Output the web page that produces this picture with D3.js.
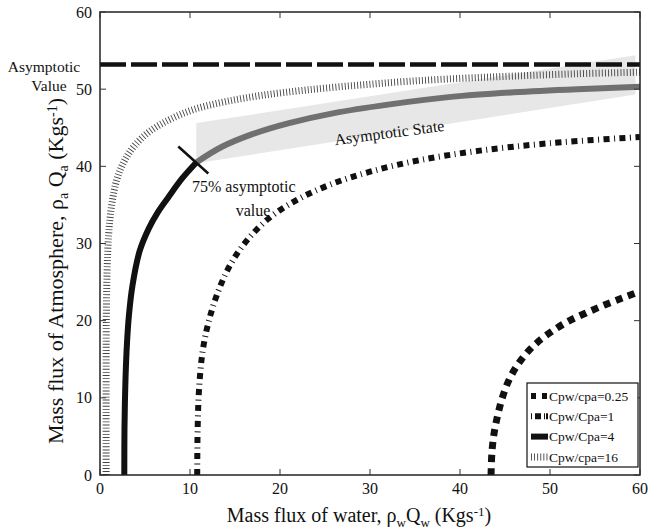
<!DOCTYPE html>
<html>
<head>
<meta charset="utf-8">
<script src="https://cdn.jsdelivr.net/npm/d3@7"></script>
<style>
  body { margin: 0; background: #fff; }
  text { font-family: "Liberation Serif", "DejaVu Serif", serif; fill: #111; }
</style>
</head>
<body>
<svg id="chart" width="649" height="530"></svg>
<script>
// Axis ticks
const xTicks = [0, 10, 20, 30, 40, 50, 60];
const yTicks = [0, 10, 20, 30, 40, 50, 60];

// Horizontal asymptote of the atmosphere mass flux (kg/s)
const asymptoticValue = 53.2;

// Mass flux of water (x) vs mass flux of atmosphere (y), one array per heat-capacity ratio
const ratio025 = [[43.45,0],[43.55,3],[43.8,5.5],[44.2,7.8],[44.7,10.0],[45.4,12.2],[46.3,14.1],[47.4,15.8],
  [48.6,17.2],[50.2,18.6],[52.0,19.9],[54.0,21.0],[56.2,22.1],[58.2,23.0],[60,23.8]];
const ratio1 = [[10.8,0],[10.85,6],[11.0,11],[11.4,16],[12.1,20],[13.2,24],[14.6,27.5],[16.4,30.5],
  [18.8,33.3],[21.8,35.6],[25.5,37.6],[30,39.3],[35.5,40.8],[42,42.0],[50,43.0],[60,43.8]];
const ratio4 = [[2.7,0],[2.72,6],[2.8,11],[2.95,16],[3.2,20.5],[3.6,24.5],[4.4,29.0],[5.4,31.9],
  [6.4,34.0],[7.6,36.0],[9.1,38.4],[10.7,40.5],[13.5,42.5],[17,44.2],[21,45.6],[26,46.9],[32,48.0],
  [39,49.0],[46,49.6],[53,50.0],[60,50.3]];
const ratio16 = [[0.68,0],[0.68,10],[0.7,20],[0.78,26],[0.95,31],[1.3,35],[1.9,38.4],[2.8,40.9],
  [4.0,42.9],[5.6,44.6],[7.8,46.1],[10.5,47.4],[14,48.4],[18,49.2],[23,49.9],[28.5,50.5],[34,51.0],
  [40,51.4],[46,51.7],[53,52.0],[60,52.2]];

// Point where the Cpw/Cpa=4 curve reaches 75% of the asymptotic value
const point75 = [10.7, 40.5];

// Shaded band marking the asymptotic state
const stateBand = [[10.7,45.6],[59.5,54.4],[59.5,49.3],[10.7,40.4]];

const legendLabels = ["Cpw/cpa=0.25", "Cpw/Cpa=1", "Cpw/Cpa=4", "Cpw/cpa=16"];

const svg = d3.select("#chart");
const x = d3.scaleLinear().domain([0, 60]).range([100, 640]);
const y = d3.scaleLinear().domain([0, 60]).range([475, 12]);

svg.append("defs").append("clipPath").attr("id", "plot")
  .append("rect").attr("x", 100).attr("y", 12).attr("width", 540).attr("height", 463);

const curveLine = d3.line().x(d => x(d[0])).y(d => y(d[1])).curve(d3.curveCatmullRom.alpha(0.5));

const g = svg.append("g").attr("clip-path", "url(#plot)");

// Asymptotic state band
g.append("path")
  .attr("d", d3.line().x(d => x(d[0])).y(d => y(d[1]))(stateBand) + "Z")
  .attr("fill", "#e7e7e8");

const styles = [
  { data: ratio025, width: 7, dash: "7,6", color: "#111" },
  { data: ratio1, width: 6, dash: "6,4.5,1,4.5", color: "#111" },
  { data: ratio16, width: 7, dash: "0.9,2.2", color: "#444" }
];
styles.forEach(s => {
  g.append("path").attr("d", curveLine(s.data))
    .attr("fill", "none").attr("stroke", s.color)
    .attr("stroke-width", s.width).attr("stroke-dasharray", s.dash);
});

// Cpw/Cpa=4: black up to the 75% point, grey beyond it
const r4a = ratio4.filter(d => d[0] <= point75[0]);
const r4b = ratio4.filter(d => d[0] >= point75[0]);
g.append("path").attr("d", curveLine(r4a)).attr("fill", "none").attr("stroke", "#111").attr("stroke-width", 6);
g.append("path").attr("d", curveLine(r4b)).attr("fill", "none").attr("stroke", "#707070").attr("stroke-width", 6);

// Asymptote
g.append("line")
  .attr("x1", x(0)).attr("x2", x(60)).attr("y1", y(asymptoticValue)).attr("y2", y(asymptoticValue))
  .attr("stroke", "#111").attr("stroke-width", 4.5).attr("stroke-dasharray", "26,5");

// Marker across the curve at the 75% point
const px = x(point75[0]), py = y(point75[1]);
svg.append("line")
  .attr("x1", px - 18).attr("y1", py - 16).attr("x2", px + 12).attr("y2", py + 11)
  .attr("stroke", "#111").attr("stroke-width", 2.5);

// Frame and inward ticks
svg.append("rect").attr("x", 100).attr("y", 12).attr("width", 540).attr("height", 463)
  .attr("fill", "none").attr("stroke", "#222").attr("stroke-width", 1.5);
const tl = 6;
xTicks.forEach(t => {
  svg.append("line").attr("x1", x(t)).attr("x2", x(t)).attr("y1", 475).attr("y2", 475 - tl).attr("stroke", "#333");
  svg.append("line").attr("x1", x(t)).attr("x2", x(t)).attr("y1", 12).attr("y2", 12 + tl).attr("stroke", "#333");
  svg.append("text").attr("x", x(t)).attr("y", 494).attr("text-anchor", "middle")
    .attr("font-size", 16).text(t);
});
yTicks.forEach(t => {
  svg.append("line").attr("x1", 100).attr("x2", 100 + tl).attr("y1", y(t)).attr("y2", y(t)).attr("stroke", "#333");
  svg.append("line").attr("x1", 640).attr("x2", 640 - tl).attr("y1", y(t)).attr("y2", y(t)).attr("stroke", "#333");
  svg.append("text").attr("x", 92).attr("y", y(t)).attr("dy", "0.35em").attr("text-anchor", "end")
    .attr("font-size", 16).text(t);
});

// Axis titles with sub/superscripts
function richLabel(sel, parts, small) {
  parts.forEach(p => {
    const ts = sel.append("tspan").text(p[0]);
    if (p[1] === "sub") ts.attr("font-size", small).attr("baseline-shift", "-35%");
    if (p[1] === "sup") ts.attr("font-size", small).attr("baseline-shift", "45%");
    if (!p[1]) ts.attr("baseline-shift", "0");
  });
}
const xl = svg.append("text").attr("x", 359).attr("y", 522).attr("text-anchor", "middle").attr("font-size", 20);
richLabel(xl, [["Mass flux of water, ρ"], ["w", "sub"], ["Q"], ["w", "sub"], [" (Kgs"], ["-1", "sup"], [")"]], 13);
const yl = svg.append("text").attr("transform", "translate(63,271) rotate(-90)")
  .attr("text-anchor", "middle").attr("font-size", 22);
richLabel(yl, [["Mass flux of Atmosphere, ρ"], ["a", "sub"], [" Q"], ["a", "sub"], [" (Kgs"], ["-1", "sup"], [")"]], 14);

// Annotations
svg.append("text").attr("x", 44).attr("y", 72).attr("text-anchor", "middle").attr("font-size", 15.5).text("Asymptotic");
svg.append("text").attr("x", 49).attr("y", 91).attr("text-anchor", "middle").attr("font-size", 15.5).text("Value");
svg.append("text").attr("transform", "translate(390,138) rotate(-7.5)")
  .attr("text-anchor", "middle").attr("font-size", 16).text("Asymptotic State");
svg.append("text").attr("x", 192).attr("y", 192).attr("font-size", 16).text("75% asymptotic");
svg.append("text").attr("x", 253).attr("y", 216).attr("text-anchor", "middle").attr("font-size", 16).text("value");

// Legend
const lg = svg.append("g");
lg.append("rect").attr("x", 527).attr("y", 383).attr("width", 111).attr("height", 84)
  .attr("fill", "#fff").attr("stroke", "#111").attr("stroke-width", 1.2);
const legendStyles = [
  { width: 6, dash: "5,6", color: "#111" },
  { width: 6, dash: "1,3,6,3,1", color: "#111" },
  { width: 6, dash: null, color: "#111" },
  { width: 7, dash: "0.9,2.2", color: "#444" }
];
legendLabels.forEach((lab, i) => {
  const ly = 396 + i * 20.3;
  const s = legendStyles[i];
  const ln = lg.append("line").attr("x1", 531).attr("x2", 548).attr("y1", ly).attr("y2", ly)
    .attr("stroke", s.color).attr("stroke-width", s.width);
  if (s.dash) ln.attr("stroke-dasharray", s.dash);
  lg.append("text").attr("x", 549).attr("y", ly).attr("dy", "0.35em").attr("font-size", 13.5).text(lab);
});
</script>
</body>
</html>
